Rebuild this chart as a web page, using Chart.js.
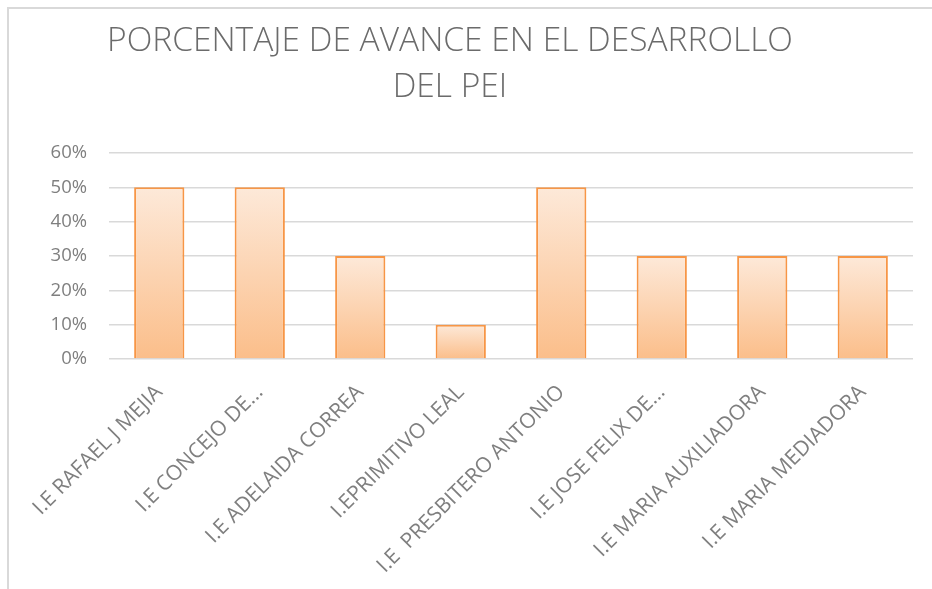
<!DOCTYPE html>
<html>
<head>
<meta charset="utf-8">
<script src="https://cdn.jsdelivr.net/npm/chart.js@4.4.1/dist/chart.umd.min.js"></script>
<style>
	body { margin: 0; background: #fff; }
	#wrap { position: relative; width: 932px; height: 589px; overflow: hidden; }
	#frame { position: absolute; left: 7px; top: 7px; width: 960px; height: 620px; border: 2px solid #d9d9d9; box-sizing: border-box; }
	canvas { position: absolute; left: 0; top: 0; }
</style>
</head>
<body>
<div id="wrap">
	<div id="frame"></div>
	<canvas id="myChart" width="932" height="589"></canvas>
</div>
<script>
let titleLines = ["PORCENTAJE DE AVANCE EN EL DESARROLLO", "DEL PEI"];

let schools = [
	"I.E RAFAEL J MEJIA",
	"I.E CONCEJO DE...",
	"I.E ADELAIDA CORREA",
	"I.EPRIMITIVO LEAL",
	"I.E  PRESBITERO ANTONIO",
	"I.E JOSE FELIX DE...",
	"I.E MARIA AUXILIADORA",
	"I.E MARIA MEDIADORA"
];

let avance = [0.5, 0.5, 0.3, 0.1, 0.5, 0.3, 0.3, 0.3];

let yTicks = [0, 0.1, 0.2, 0.3, 0.4, 0.5, 0.6];

// bar fill: light at the top, darker peach at the bottom
function barFill(context) {
	let chart = context.chart;
	if(!chart.chartArea || !chart.scales.y)
		return "rgb(252,210,170)";

	let y = chart.scales.y;
	let top = y.getPixelForValue(context.raw);
	let bottom = y.getPixelForValue(0);
	if(!isFinite(top) || bottom - top < 1)
		return "rgb(252,210,170)";

	let g = chart.ctx.createLinearGradient(0, top, 0, bottom);
	g.addColorStop(0, "rgb(253,233,217)");
	g.addColorStop(1, "rgb(251,190,138)");
	return g;
}

// two line title, centred a bit left of the plot like the original
let titlePlugin = {
	id: "titleText",
	afterDraw: (chart) => {
		let ctx = chart.ctx;
		ctx.save();
		ctx.fillStyle = "#6b6b6b";
		ctx.font = "300 33.5px 'Open Sans'";
		ctx.textAlign = "center";
		ctx.textBaseline = "alphabetic";
		ctx.fillText(titleLines[0], 450, 51);
		ctx.fillText(titleLines[1], 450, 97);
		ctx.restore();
	}
};

let ctx = document.getElementById("myChart").getContext("2d");
let chart = new Chart(ctx, {
	type: "bar",
	data: {
		labels: schools,
		datasets: [{
			label: "Avance",
			data: avance,
			backgroundColor: barFill,
			borderColor: "rgb(247,150,70)",
			borderWidth: 2,
			barPercentage: 0.5,
			categoryPercentage: 1.0
		}]
	},
	options: {
		responsive: false,
		animation: false,
		layout: {
			padding: { top: 153, right: 19, left: 0, bottom: 0 }
		},
		plugins: {
			legend: { display: false },
			tooltip: { enabled: false },
			title: { display: false }
		},
		scales: {
			x: {
				grid: { display: false, drawTicks: false },
				border: { display: false },
				ticks: {
					color: "#7f7f7f",
					font: { family: "'Open Sans'", size: 21 },
					maxRotation: 45,
					minRotation: 45,
					autoSkip: false,
					padding: 21
				},
				afterFit: (scale) => { scale.height = 230; }
			},
			y: {
				min: 0,
				max: 0.6,
				afterBuildTicks: (scale) => {
					scale.ticks = yTicks.map(v => ({ value: v }));
				},
				grid: {
					color: "#d9d9d9",
					lineWidth: 1.5,
					drawTicks: false
				},
				border: { display: false },
				ticks: {
					color: "#7f7f7f",
					font: { family: "'Open Sans'", size: 18.5 },
					padding: 22,
					callback: (v) => Math.round(v * 100) + "%"
				},
				afterFit: (scale) => { scale.width = 109; }
			}
		}
	},
	plugins: [titlePlugin]
});
</script>
</body>
</html>
